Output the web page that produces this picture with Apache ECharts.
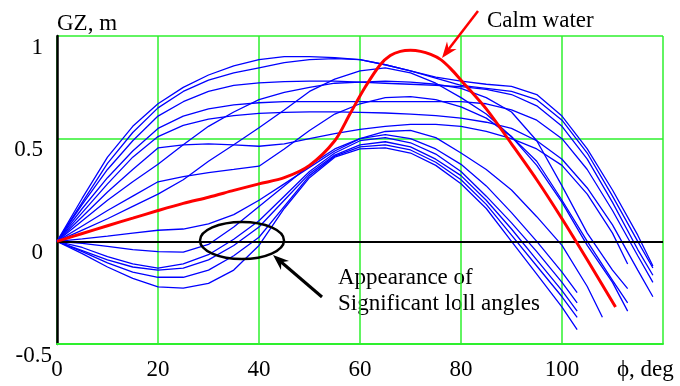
<!DOCTYPE html>
<html>
<head>
<meta charset="utf-8">
<script src="https://cdn.jsdelivr.net/npm/echarts/dist/echarts.min.js"></script>
<style>
html, body { margin: 0; padding: 0; background: #fff; }
#chart { width: 680px; height: 386px; }
</style>
</head>
<body>
<div id="chart"></div>
<script>
// heel angles (deg) shared by the wave curves, then each curve's last point
const phi = [0, 5, 10, 15, 20, 25, 30, 35, 40, 45, 50, 55, 60, 65, 70, 75, 80, 85, 90, 95, 100, 105, 110, 115];

// GZ on wave (m), one array per wave position
const gzWave = [
    [0, 0.21, 0.41, 0.56, 0.67, 0.75, 0.81, 0.855, 0.885, 0.9, 0.9, 0.895, 0.885, 0.86, 0.83, 0.8, 0.78, 0.765, 0.755, 0.715, 0.61, 0.45, 0.25, 0.03],
    [0, 0.19, 0.38, 0.53, 0.65, 0.73, 0.785, 0.82, 0.845, 0.87, 0.885, 0.89, 0.885, 0.86, 0.83, 0.795, 0.76, 0.745, 0.73, 0.69, 0.59, 0.43, 0.22, 0.0],
    [0, 0.18, 0.35, 0.49, 0.61, 0.68, 0.73, 0.76, 0.772, 0.778, 0.78, 0.78, 0.775, 0.77, 0.765, 0.76, 0.753, 0.74, 0.715, 0.66, 0.56, 0.4, 0.19, -0.04],
    [0, 0.16, 0.31, 0.44, 0.55, 0.61, 0.645, 0.665, 0.675, 0.68, 0.68, 0.68, 0.68, 0.68, 0.68, 0.68, 0.68, 0.67, 0.64, 0.59, 0.5, 0.35, 0.15, -0.07],
    [0, 0.14, 0.28, 0.41, 0.51, 0.565, 0.595, 0.612, 0.623, 0.628, 0.63, 0.63, 0.628, 0.625, 0.62, 0.612, 0.6, 0.58, 0.55, 0.49, 0.4, 0.26, 0.08, -0.14],
    [0, 0.12, 0.24, 0.35, 0.455, 0.47, 0.475, 0.47, 0.463, 0.475, 0.5, 0.525, 0.545, 0.56, 0.57, 0.57, 0.56, 0.535, 0.5, 0.45, 0.37, 0.23, 0.04],
    [0, 0.1, 0.2, 0.29, 0.375, 0.47, 0.56, 0.63, 0.69, 0.725, 0.75, 0.77, 0.775, 0.78, 0.775, 0.765, 0.745, 0.7, 0.63, 0.49, 0.27, 0.04, -0.14],
    [0, 0.075, 0.15, 0.22, 0.29, 0.315, 0.335, 0.35, 0.366, 0.45, 0.54, 0.62, 0.67, 0.7, 0.705, 0.69, 0.655, 0.6, 0.51, 0.39, 0.2, 0.0, -0.19],
    [0, 0.055, 0.11, 0.17, 0.23, 0.3, 0.39, 0.47, 0.553, 0.64, 0.73, 0.79, 0.83, 0.845, 0.82, 0.77, 0.7, 0.62, 0.51, 0.37, 0.19, -0.02, -0.2],
    [0, 0.012, 0.025, 0.04, 0.054, 0.06, 0.085, 0.13, 0.2, 0.28, 0.36, 0.44, 0.5, 0.535, 0.54, 0.505, 0.43, 0.35, 0.25, 0.12, -0.02, -0.22],
    [0, -0.01, -0.025, -0.04, -0.05, -0.053, -0.015, 0.07, 0.17, 0.27, 0.37, 0.45, 0.5, 0.52, 0.5, 0.45, 0.375, 0.27, 0.14, 0.0, -0.15],
    [0, -0.03, -0.075, -0.11, -0.13, -0.11, -0.065, 0.01, 0.1, 0.22, 0.34, 0.43, 0.49, 0.505, 0.48, 0.425, 0.34, 0.22, 0.09, -0.05, -0.2],
    [0, -0.045, -0.09, -0.125, -0.14, -0.13, -0.09, -0.02, 0.07, 0.2, 0.33, 0.42, 0.47, 0.485, 0.46, 0.4, 0.32, 0.2, 0.06, -0.09, -0.24],
    [0, -0.05, -0.105, -0.15, -0.175, -0.175, -0.14, -0.07, 0.02, 0.17, 0.32, 0.415, 0.46, 0.47, 0.445, 0.385, 0.3, 0.18, 0.03, -0.12, -0.27],
    [0, -0.06, -0.125, -0.18, -0.222, -0.228, -0.205, -0.14, -0.02, 0.16, 0.31, 0.41, 0.45, 0.455, 0.43, 0.37, 0.28, 0.16, 0.0, -0.16, -0.32],
];
const waveEnds = [
    [118, -0.12], [118, -0.13], [118, -0.165], [118, -0.2], [118, -0.27],
    [113, -0.11], [113, -0.23], [113, -0.3], [113, -0.34],
    [108, -0.37],
    [103, -0.25], [103, -0.3], [103, -0.34], [103, -0.37], [103, -0.43],
];

// calm water curve
const calmPhi = [0, 5, 10, 15, 20, 25, 30, 35, 40, 45, 50, 55, 58, 61, 64, 66, 68, 70, 72, 74, 76, 78, 80, 85, 90, 95, 100, 105, 110.6];
const calmGz = [0, 0.038, 0.076, 0.113, 0.15, 0.185, 0.215, 0.248, 0.28, 0.31, 0.37, 0.49, 0.62, 0.75, 0.86, 0.905, 0.925, 0.93, 0.925, 0.91, 0.885, 0.84, 0.785, 0.645, 0.475, 0.3, 0.11, -0.09, -0.32];

const SERIF = "'Liberation Serif', 'Times New Roman', serif";
const GREEN = "#2ef02e";

const series = gzWave.map((vals, i) => ({
    type: "line",
    name: "wave" + (i + 1),
    showSymbol: false,
    silent: true,
    z: 2,
    lineStyle: { color: "#0000ff", width: 1.3 },
    data: vals.map((v, k) => [phi[k], v]).concat([waveEnds[i]]),
}));

series.push({
    type: "line",
    name: "Calm water",
    showSymbol: false,
    silent: true,
    smooth: 0.3,
    z: 4,
    lineStyle: { color: "#ff0000", width: 3 },
    data: calmPhi.map((p, k) => [p, calmGz[k]]),
    markLine: {
        silent: true,
        symbol: ["none", "none"],
        label: { show: false },
        lineStyle: { color: "#000", width: 2, type: "solid" },
        data: [{ yAxis: 0 }],
        z: 3,
    },
});

const chart = echarts.init(document.getElementById("chart"));
chart.setOption({
    animation: false,
    grid: { left: 57, right: 17, top: 36, bottom: 42 },
    xAxis: {
        type: "value",
        min: 0,
        max: 120,
        interval: 20,
        axisLine: { show: true, onZero: false, lineStyle: { color: GREEN, width: 2 } },
        axisTick: { show: false },
        splitLine: { show: true, lineStyle: { color: GREEN, width: 1.5 } },
        axisLabel: {
            margin: 26,
            verticalAlign: "middle",
            fontSize: 23,
            fontFamily: SERIF,
            color: "#000",
            formatter: (v) => (v === 120 ? "" : v),
        },
    },
    yAxis: {
        type: "value",
        min: -0.5,
        max: 1,
        interval: 0.5,
        axisLine: { show: true, lineStyle: { color: "#000", width: 2.5 } },
        axisTick: { show: false },
        splitLine: { show: true, lineStyle: { color: GREEN, width: 1.5 } },
        axisLabel: {
            margin: 14,
            verticalAlign: "top",
            fontSize: 23,
            fontFamily: SERIF,
            color: "#000",
            formatter: (v) => (v === -0.5 ? "{s|-0.5}" : v),
            rich: { s: { fontSize: 23, fontFamily: SERIF, color: "#000", padding: [0, -9, 0, 0] } },
        },
    },
    graphic: [
        { type: "text", left: 57, top: 12, style: { text: "GZ, m", font: "23px " + SERIF, fill: "#000" } },
        { type: "text", left: 617, top: 358, style: { text: "ϕ, deg", font: "23px " + SERIF, fill: "#000" } },
        { type: "text", left: 487, top: 9, style: { text: "Calm water", font: "23px " + SERIF, fill: "#000" } },
        { type: "text", left: 338, top: 266, style: { text: "Appearance of", font: "23px " + SERIF, fill: "#000" } },
        { type: "text", left: 338, top: 292, style: { text: "Significant loll angles", font: "23px " + SERIF, fill: "#000" } },
        // red arrow to calm water curve
        { type: "line", shape: { x1: 478, y1: 11, x2: 448, y2: 50 }, style: { stroke: "#ff0000", lineWidth: 2.5 }, z: 10 },
        { type: "polygon", shape: { points: [[442, 58], [447, 41.5], [448.7, 49.2], [456.6, 48.9]] }, style: { fill: "#ff0000" }, z: 10 },
        // ellipse and black arrow
        { type: "ellipse", shape: { cx: 242, cy: 240.5, rx: 42, ry: 18.5 }, style: { fill: "none", stroke: "#000", lineWidth: 2.5 }, z: 10 },
        { type: "line", shape: { x1: 322, y1: 297, x2: 280, y2: 261 }, style: { stroke: "#000", lineWidth: 3 }, z: 10 },
        { type: "polygon", shape: { points: [[273, 255], [289, 261], [281.3, 262.2], [281, 270]] }, style: { fill: "#000" }, z: 10 },
    ],
    series: series,
});
</script>
</body>
</html>
